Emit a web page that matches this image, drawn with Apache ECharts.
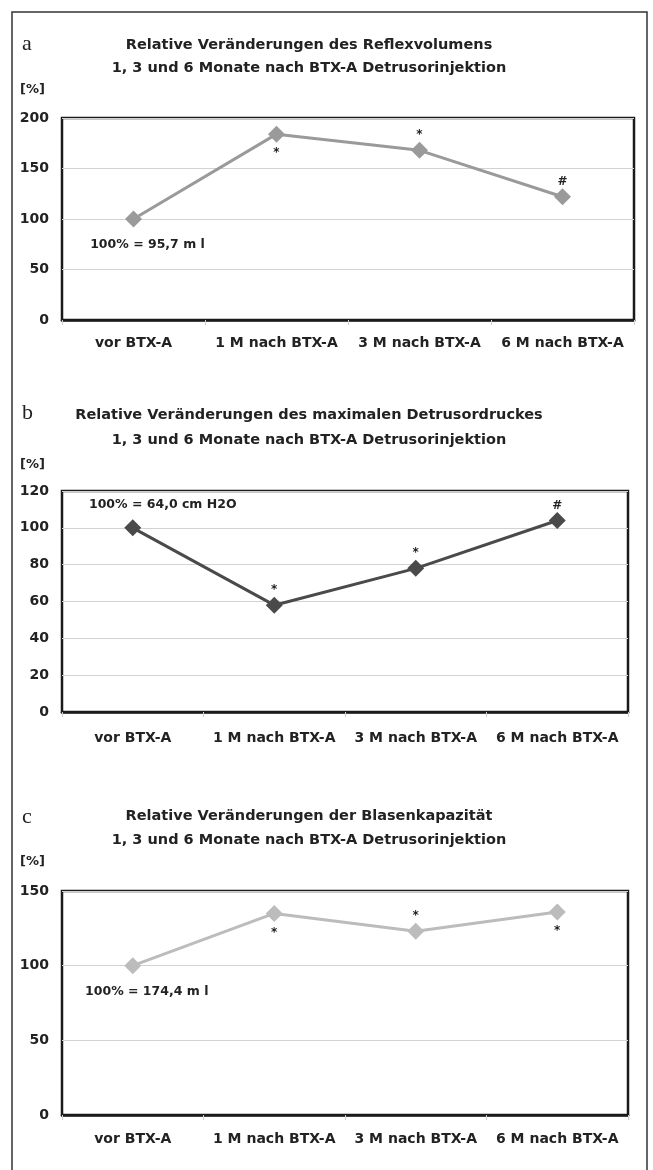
<!DOCTYPE html>
<html><head><meta charset="utf-8">
<script src="https://cdn.jsdelivr.net/npm/echarts@6/dist/echarts.min.js"></script>
<style>html,body{margin:0;padding:0;background:#fff}#c{width:653px;height:1170px}</style>
</head><body><div id="c"></div>
<script>
var categories = ['vor BTX-A', '1 M nach BTX-A', '3 M nach BTX-A', '6 M nach BTX-A'];

var valuesA = [100, 184, 168, 122];
var valuesB = [100, 58, 78, 104];
var valuesC = [100, 135, 123, 136];

var ticksA = [0, 50, 100, 150, 200];
var ticksB = [0, 20, 40, 60, 80, 100, 120];
var ticksC = [0, 50, 100, 150];

var marksA = ['', '*', '*', '#'];
var marksB = ['', '*', '*', '#'];
var marksC = ['', '*', '*', '*'];
var sidesA = ['', 'below', 'above', 'above'];
var sidesB = ['', 'above', 'above', 'above'];
var sidesC = ['', 'below', 'above', 'below'];

var baseA = '100% = 95,7 m l';
var baseB = '100% = 64,0 cm H2O';
var baseC = '100% = 174,4 m l';

var titlesA = ['Relative Veränderungen des Reflexvolumens', '1, 3 und 6 Monate nach BTX-A Detrusorinjektion'];
var titlesB = ['Relative Veränderungen des maximalen Detrusordruckes', '1, 3 und 6 Monate nach BTX-A Detrusorinjektion'];
var titlesC = ['Relative Veränderungen der Blasenkapazität', '1, 3 und 6 Monate nach BTX-A Detrusorinjektion'];

var FONT = '"DejaVu Sans", "Liberation Sans", sans-serif';

var panels = [
  {vals: valuesA, ticks: ticksA, marks: marksA, sides: sidesA, base: baseA, baseOff: [14, 26], color: '#9a9a9a',
   grid: {left: 62, top: 118, width: 572, height: 202}, labelMargin: 16, titles: titlesA, tY: [45, 68], letter: 'a', lY: 44, pY: 90},
  {vals: valuesB, ticks: ticksB, marks: marksB, sides: sidesB, base: baseB, baseOff: [30, -23], color: '#4a4a4a',
   grid: {left: 62, top: 491, width: 566, height: 221}, labelMargin: 19, titles: titlesB, tY: [415, 440], letter: 'b', lY: 413, pY: 465},
  {vals: valuesC, ticks: ticksC, marks: marksC, sides: sidesC, base: baseC, baseOff: [14, 26], color: '#bcbcbc',
   grid: {left: 62, top: 891, width: 566, height: 224}, labelMargin: 17, titles: titlesC, tY: [816, 840], letter: 'c', lY: 817, pY: 862}
];

var grids = [], xAxes = [], yAxes = [], series = [], graphics = [];

graphics.push({type: 'rect', shape: {x: 12, y: 12, width: 635, height: 1175},
  style: {fill: 'none', stroke: '#333', lineWidth: 1.5}, z: 0});

panels.forEach(function (p, i) {
  grids.push({left: p.grid.left, top: p.grid.top, width: p.grid.width, height: p.grid.height,
    show: true, borderColor: '#1a1a1a', borderWidth: 2.5, backgroundColor: '#fff', containLabel: false});
  var t = p.ticks;
  xAxes.push({type: 'category', gridIndex: i, data: categories, boundaryGap: true,
    axisLine: {show: true, lineStyle: {color: '#1a1a1a', width: 2.5}},
    axisTick: {show: true, length: 5, lineStyle: {color: '#cfcfcf', width: 1}},
    axisLabel: {interval: 0, margin: p.labelMargin, color: '#222', fontFamily: FONT, fontWeight: 'bold', fontSize: 14},
    splitLine: {show: false}});
  yAxes.push({type: 'value', gridIndex: i, min: t[0], max: t[t.length - 1], interval: t[1] - t[0],
    axisLine: {show: false}, axisTick: {show: false},
    axisLabel: {margin: 13, color: '#222', fontFamily: FONT, fontWeight: 'bold', fontSize: 14},
    splitLine: {show: true, lineStyle: {color: '#d2d2d2', width: 1}}});
  var data = p.vals.map(function (v, k) {
    var item = {value: v};
    if (k === 0) {
      item.label = {show: true, position: 'inside', offset: p.baseOff, formatter: p.base,
        color: '#222', fontFamily: FONT, fontWeight: 'bold', fontSize: 12.5};
    } else if (p.marks[k]) {
      item.label = {show: true, position: 'inside', offset: [0, p.sides[k] === 'below' ? 19 : -15],
        formatter: p.marks[k], color: '#222', fontFamily: FONT, fontWeight: 'bold', fontSize: 12};
    }
    return item;
  });
  series.push({type: 'line', xAxisIndex: i, yAxisIndex: i, data: data,
    symbol: 'diamond', symbolSize: 17, showSymbol: true,
    lineStyle: {color: p.color, width: 3}, itemStyle: {color: p.color, borderWidth: 0},
    label: {show: false}, emphasis: {disabled: true}, animation: false, z: 3});
  p.titles.forEach(function (txt, j) {
    graphics.push({type: 'text', x: 309, y: p.tY[j], z: 5,
      style: {text: txt, textAlign: 'center', textVerticalAlign: 'middle', fill: '#222',
        fontFamily: FONT, fontWeight: 'bold', fontSize: 14.5}});
  });
  graphics.push({type: 'text', x: 22, y: p.lY, z: 5,
    style: {text: p.letter, textAlign: 'left', textVerticalAlign: 'middle', fill: '#222',
      fontFamily: '"Liberation Serif", "DejaVu Serif", serif', fontSize: 22}});
  graphics.push({type: 'text', x: 20, y: p.pY, z: 5,
    style: {text: '[%]', textAlign: 'left', textVerticalAlign: 'middle', fill: '#222',
      fontFamily: FONT, fontWeight: 'bold', fontSize: 13}});
});

var chart = echarts.init(document.getElementById('c'), null, {renderer: 'canvas'});
chart.setOption({
  animation: false,
  backgroundColor: '#fff',
  grid: grids, xAxis: xAxes, yAxis: yAxes, series: series, graphic: graphics
});
</script></body></html>
